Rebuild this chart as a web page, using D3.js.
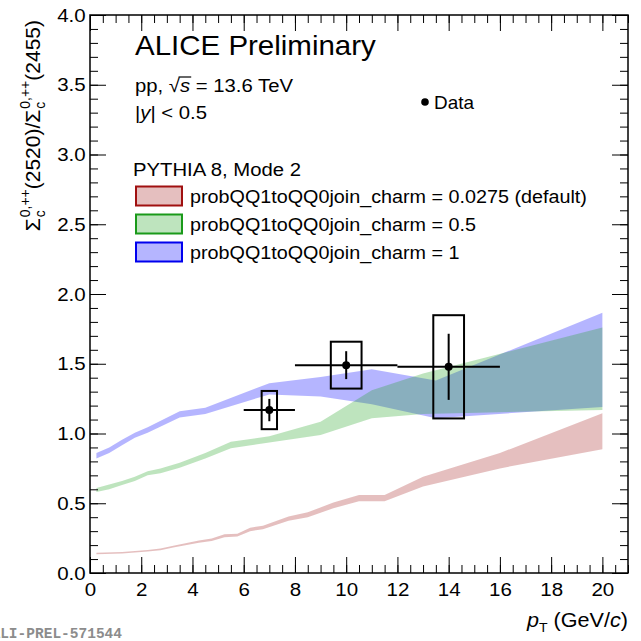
<!DOCTYPE html>
<html>
<head>
<meta charset="utf-8">
<script src="https://cdn.jsdelivr.net/npm/d3@7"></script>
<style>
  html, body { margin: 0; padding: 0; background: #fff; }
  svg { display: block; font-family: "Liberation Sans", Arial, sans-serif; }
</style>
</head>
<body>
<svg id="chart" width="641" height="641"></svg>
<script>
// ---- data ----
const dataPt    = [7, 10, 14];
const dataVal   = [1.168, 1.49, 1.478];
const dataPtLo  = [6, 8, 12];
const dataPtHi  = [8, 12, 16];
const dataStat  = [0.08, 0.10, 0.237];
const dataSyst  = [0.137, 0.168, 0.37];
const systBoxHW = [0.3, 0.6, 0.6];

const redPt = [0.25,1.25,2.25,2.75,3.25,4.25,4.75,5.25,5.75,6.25,6.75,7.75,8.5,9.5,10.5,11.5,13,16,20];
const redLo = [0.135,0.14,0.155,0.163,0.182,0.217,0.23,0.257,0.262,0.30,0.313,0.375,0.40,0.465,0.515,0.515,0.62,0.75,0.887];
const redHi = [0.145,0.15,0.165,0.175,0.196,0.233,0.248,0.277,0.282,0.325,0.338,0.405,0.435,0.505,0.56,0.56,0.69,0.86,1.145];

const greenPt = [0.25,0.75,1.25,1.75,2.25,2.75,3.5,4.5,5.5,7,9,11,13,20];
const greenLo = [0.58,0.60,0.63,0.66,0.70,0.715,0.755,0.82,0.895,0.935,0.99,1.11,1.14,1.168];
const greenHi = [0.61,0.635,0.66,0.69,0.73,0.75,0.79,0.86,0.94,0.98,1.085,1.31,1.43,1.76];

const bluePt = [0.25,0.75,1.25,1.75,2.25,3.5,4.5,7,9,11,13.5,20];
const blueLo = [0.82,0.86,0.915,0.97,1.005,1.115,1.14,1.28,1.265,1.21,1.11,1.19];
const blueHi = [0.86,0.90,0.955,1.005,1.045,1.16,1.185,1.36,1.405,1.46,1.38,1.865];

const legendLabels = [
  "probQQ1toQQ0join_charm = 0.0275 (default)",
  "probQQ1toQQ0join_charm = 0.5",
  "probQQ1toQQ0join_charm = 1"
];
const xTicks = [0,2,4,6,8,10,12,14,16,18,20];
const yTicks = [0,0.5,1,1.5,2,2.5,3,3.5,4];

// ---- layout ----
const SX = 1.08;   // reference text is a bit stretched sideways
const L = 90, R = 628, T = 15, B = 573;
const FONT = '"Liberation Sans", Arial, sans-serif';

const svg = d3.select("#chart");
const x = d3.scaleLinear().domain([0, 21]).range([L, R]);
const y = d3.scaleLinear().domain([0, 4]).range([B, T]);

const bands = [
  { pt: redPt,   lo: redLo,   hi: redHi,   fill: "rgba(153,0,0,0.25)",   stroke: "#a01010" },
  { pt: bluePt,  lo: blueLo,  hi: blueHi,  fill: "rgba(0,0,255,0.29)",   stroke: "#0000ee" },
  { pt: greenPt, lo: greenLo, hi: greenHi, fill: "rgba(31,162,31,0.29)", stroke: "#1a9a1a" }
];

const area = d3.area()
  .x(d => x(d[0])).y0(d => y(d[1])).y1(d => y(d[2]));

const gBands = svg.append("g");
bands.forEach(b => {
  const pts = b.pt.map((p, i) => [p, b.lo[i], b.hi[i]]);
  gBands.append("path").attr("d", area(pts)).attr("fill", b.fill).attr("stroke", "none");
});

// ---- axes (ROOT style, ticks inward on all four sides) ----
function styleAxis(g) {
  g.select(".domain").remove();
  g.selectAll("line").attr("stroke", "#000").attr("stroke-width", 1);
  g.attr("font-family", FONT);
}
const xMinor = d3.range(0, 21.01, 0.5);
const yMinor = d3.range(0, 4.001, 0.1);

svg.append("g").attr("transform", `translate(0,${B})`)
  .call(d3.axisBottom(x).tickValues(xMinor).tickSize(-8).tickFormat("")).call(styleAxis);
svg.append("g").attr("transform", `translate(0,${T})`)
  .call(d3.axisTop(x).tickValues(xMinor).tickSize(-8).tickFormat("")).call(styleAxis);
svg.append("g").attr("transform", `translate(${L},0)`)
  .call(d3.axisLeft(y).tickValues(yMinor).tickSize(-8).tickFormat("")).call(styleAxis);
svg.append("g").attr("transform", `translate(${R},0)`)
  .call(d3.axisRight(y).tickValues(yMinor).tickSize(-8).tickFormat("")).call(styleAxis);

const gxb = svg.append("g").attr("transform", `translate(0,${B})`)
  .call(d3.axisBottom(x).tickValues(xTicks).tickSize(-16).tickPadding(10).tickFormat(d3.format("d")))
  .call(styleAxis);
gxb.selectAll("text").attr("font-size", 19).attr("fill", "#000").attr("transform", `scale(${SX},1)`);
svg.append("g").attr("transform", `translate(0,${T})`)
  .call(d3.axisTop(x).tickValues(xTicks).tickSize(-16).tickFormat("")).call(styleAxis);

const gyl = svg.append("g").attr("transform", `translate(${L},0)`)
  .call(d3.axisLeft(y).tickValues(yTicks).tickSize(-16).tickPadding(4).tickFormat(d3.format(".1f")))
  .call(styleAxis);
gyl.selectAll("text").attr("font-size", 19).attr("fill", "#000").attr("transform", `scale(${SX},1)`);
svg.append("g").attr("transform", `translate(${R},0)`)
  .call(d3.axisRight(y).tickValues(yTicks).tickSize(-16).tickFormat("")).call(styleAxis);

svg.append("rect").attr("x", L).attr("y", T).attr("width", R - L).attr("height", B - T)
  .attr("fill", "none").attr("stroke", "#000").attr("stroke-width", 1.5);

// ---- data points ----
const gData = svg.append("g").attr("stroke", "#000").attr("stroke-width", 2).attr("fill", "none");
dataPt.forEach((p, i) => {
  const v = dataVal[i];
  gData.append("rect")
    .attr("x", x(p - systBoxHW[i])).attr("y", y(v + dataSyst[i]))
    .attr("width", x(p + systBoxHW[i]) - x(p - systBoxHW[i]))
    .attr("height", y(v - dataSyst[i]) - y(v + dataSyst[i]));
  gData.append("line").attr("x1", x(dataPtLo[i])).attr("x2", x(dataPtHi[i]))
    .attr("y1", y(v)).attr("y2", y(v));
  gData.append("line").attr("x1", x(p)).attr("x2", x(p))
    .attr("y1", y(v - dataStat[i])).attr("y2", y(v + dataStat[i]));
  gData.append("circle").attr("cx", x(p)).attr("cy", y(v)).attr("r", 4)
    .attr("fill", "#000").attr("stroke", "none");
});

// ---- text helpers ----
function label(px, py, size, anchor) {
  const g = svg.append("g").attr("transform", `translate(${px},${py}) scale(${SX},1)`);
  const t = g.append("text").attr("font-size", size).attr("fill", "#000")
    .attr("text-anchor", anchor || "start").attr("font-family", FONT);
  return { g, t };
}

label(135, 55, 27.3).t.text("ALICE Preliminary");

const pp = label(135, 92, 18.8);
pp.t.append("tspan").text("pp, \u221A");
pp.t.append("tspan").attr("font-style", "italic").text("s");
pp.t.append("tspan").text(" = 13.6 TeV");
{
  const node = pp.t.node();
  const x0 = node.getSubStringLength(0, 4);
  const x1 = node.getSubStringLength(0, 6);
  pp.g.append("line").attr("x1", x0 + 9).attr("x2", x1 + 1)
    .attr("y1", -15).attr("y2", -15).attr("stroke", "#000").attr("stroke-width", 1.2);
}

const yy = label(135, 119, 18.8);
yy.t.append("tspan").text("|");
yy.t.append("tspan").attr("font-style", "italic").text("y");
yy.t.append("tspan").text("| < 0.5");

label(133, 176, 18.8).t.text("PYTHIA 8, Mode 2");

const rowY = [196, 224, 252];
const legendBands = [bands[0], bands[2], bands[1]];
legendLabels.forEach((s, i) => {
  svg.append("rect").attr("x", 136).attr("y", rowY[i] - 9.5).attr("width", 46).attr("height", 19)
    .attr("fill", legendBands[i].fill).attr("stroke", legendBands[i].stroke).attr("stroke-width", 2);
  label(190, rowY[i] + 6.5, 18.3).t.text(s);
});

svg.append("circle").attr("cx", 425).attr("cy", 102).attr("r", 3.8).attr("fill", "#000");
label(434, 109, 17.5).t.text("Data");

// x title
const xt = label(628, 627, 20, "end");
xt.t.append("tspan").attr("font-style", "italic").text("p");
xt.t.append("tspan").attr("font-size", 13).attr("dy", 5).text("T");
xt.t.append("tspan").attr("dy", -5).text(" (GeV/");
xt.t.append("tspan").attr("font-style", "italic").text("c");
xt.t.append("tspan").text(")");

// y title, rotated, end aligned near the top of the frame
{
  const gt = svg.append("g");
  let cx = 0;
  function main(s) {
    const t = gt.append("text").attr("x", cx).attr("font-size", 21).attr("font-family", FONT).text(s);
    cx += t.node().getComputedTextLength();
  }
  function stack(sup, sub) {
    const a = gt.append("text").attr("x", cx + 1).attr("y", -10).attr("font-size", 14).attr("font-family", FONT).text(sup);
    const b = gt.append("text").attr("x", cx + 1).attr("y", 5).attr("font-size", 14).attr("font-family", FONT).text(sub);
    cx += Math.max(a.node().getComputedTextLength(), b.node().getComputedTextLength()) + 1;
  }
  main("\u03A3"); stack("0,++", "c"); main("(2520)/\u03A3"); stack("0,++", "c"); main("(2455)");
  gt.attr("transform", `translate(40,${20 + cx}) rotate(-90)`);
}

// watermark (first letter cut by the page edge, as in the original)
svg.append("text").attr("x", 122).attr("y", 638).attr("text-anchor", "end")
  .attr("font-family", '"Liberation Mono", "DejaVu Sans Mono", monospace').attr("font-weight", "bold")
  .attr("font-size", 14.5).attr("fill", "#8c8c8c").text("ALI-PREL-571544");
</script>
</body>
</html>
